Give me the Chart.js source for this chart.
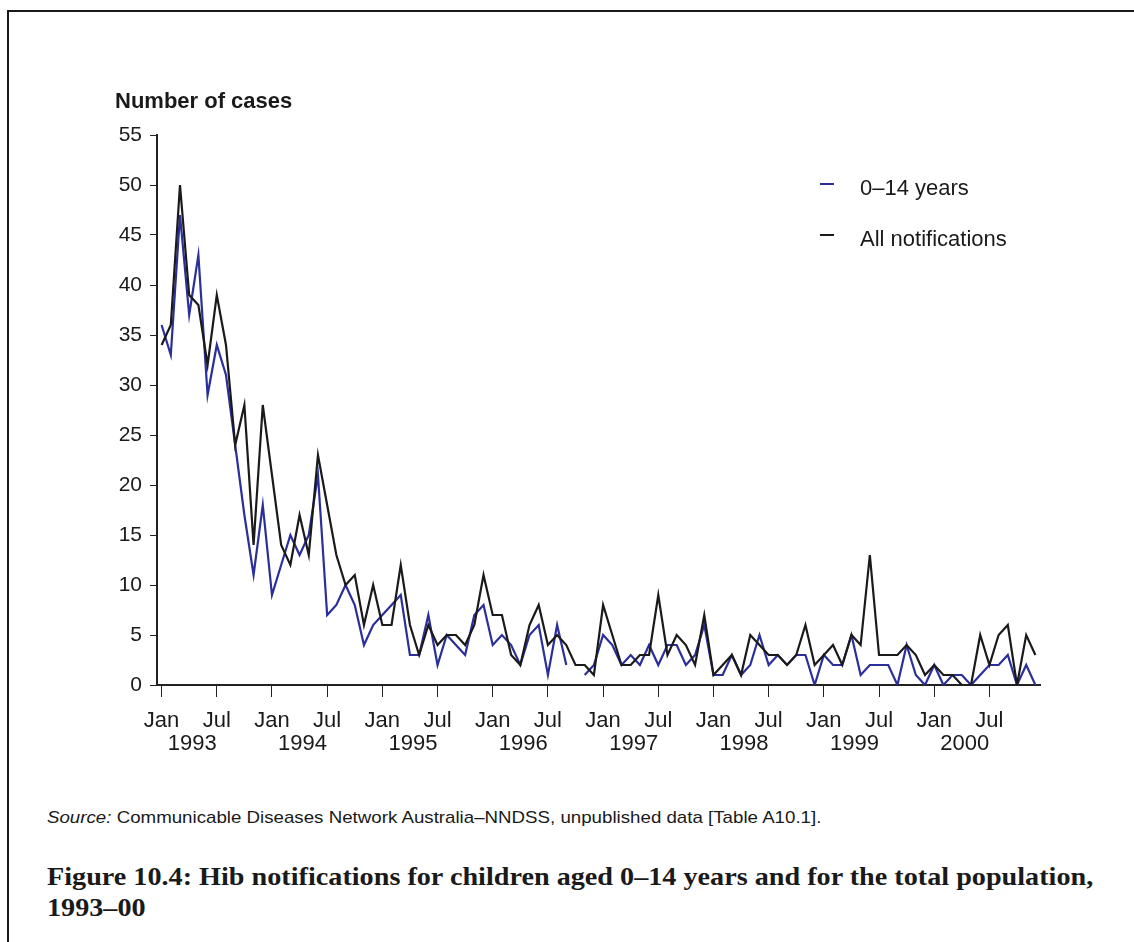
<!DOCTYPE html>
<html><head><meta charset="utf-8">
<script src="https://cdn.jsdelivr.net/npm/chart.js@4.4.0/dist/chart.umd.min.js"></script>
<style>
html,body{margin:0;padding:0;background:#fff;}
#wrap{position:relative;width:1134px;height:942px;overflow:hidden;font-family:"Liberation Sans",Arial,sans-serif;color:#1a1a1a;}
#frameTop{position:absolute;left:7px;top:10px;width:1127px;height:0;border-top:2px solid #1a1a1a;}
#frameLeft{position:absolute;left:7px;top:10px;width:0;height:932px;border-left:2px solid #1a1a1a;}
canvas{position:absolute;left:0;top:0;}
#ytitle{position:absolute;left:115px;top:89px;font-weight:bold;font-size:22px;line-height:24px;white-space:nowrap;}
.leg{position:absolute;left:820px;height:24px;font-size:22px;line-height:24px;white-space:nowrap;}
.leg span.ln{position:absolute;left:0;top:7px;width:14px;height:0;border-top:2px solid;}
.leg span.tx{position:absolute;left:40px;top:0;}
#source{position:absolute;left:47px;top:808px;font-size:17px;line-height:20px;white-space:nowrap;transform:scaleX(1.10);transform-origin:0 0;}
#caption{position:absolute;left:47px;top:861px;font-family:"Liberation Serif","Times New Roman",serif;font-weight:bold;font-size:26px;line-height:31px;white-space:nowrap;transform:scaleX(1.084);transform-origin:0 0;}
</style></head>
<body>
<div id="wrap">
<div id="frameTop"></div><div id="frameLeft"></div>
<canvas id="c" width="1134" height="780" style="width:1134px;height:780px"></canvas>
<div id="ytitle">Number of cases</div>
<div class="leg" style="top:176px"><span class="ln" style="border-color:#2b2f9a"></span><span class="tx">0–14 years</span></div>
<div class="leg" style="top:227px"><span class="ln" style="border-color:#1a1a1a"></span><span class="tx">All notifications</span></div>
<div id="source"><i>Source:</i> Communicable Diseases Network Australia–NNDSS, unpublished data [Table A10.1].</div>
<div id="caption">Figure 10.4: Hib notifications for children aged 0–14 years and for the total population,<br>1993–00</div>
</div>
<script>
const monthNames = ['Jan','Feb','Mar','Apr','May','Jun','Jul','Aug','Sep','Oct','Nov','Dec'];
const years = ['1993','1994','1995','1996','1997','1998','1999','2000'];
const categories = years.flatMap(y => monthNames.map(m => m + ' ' + y));
const yTicks = [0,5,10,15,20,25,30,35,40,45,50,55];

const children0to14 = [
  36,33,47,37,43,29,34,31,24,17,11,18,
  9,12,15,13,15,21,7,8,10,8,4,6,
  7,8,9,3,3,7,2,5,4,3,7,8,
  4,5,4,2,5,6,1,6,2,null,1,2,
  5,4,2,3,2,4,2,4,4,2,3,6,
  1,1,3,1,2,5,2,3,2,3,3,0,
  3,2,2,5,1,2,2,2,0,4,1,0,
  2,0,1,1,0,1,2,2,3,0,2,0
];
const allNotifications = [
  34,36,50,39,38,32,39,34,24,28,14,28,
  21,14,12,17,13,23,18,13,10,11,6,10,
  6,6,12,6,3,6,4,5,5,4,6,11,
  7,7,3,2,6,8,4,5,4,2,2,1,
  8,5,2,2,3,3,9,3,5,4,2,7,
  1,2,3,1,5,4,3,3,2,3,6,2,
  3,4,2,5,4,13,3,3,3,4,3,1,
  2,1,1,0,0,5,2,5,6,0,5,3
];

const axisColor = '#222';
const fam = '"Liberation Sans", Arial, sans-serif';

new Chart(document.getElementById('c'), {
  type: 'line',
  data: {
    labels: categories,
    datasets: [
      {label:'All notifications', data: allNotifications, borderColor:'#1a1a1a', borderWidth:2.2, pointRadius:0, tension:0, spanGaps:false, fill:false},
      {label:'0–14 years', data: children0to14, borderColor:'#2b2f9a', borderWidth:2.2, pointRadius:0, tension:0, spanGaps:false, fill:false}
    ]
  },
  options: {
    responsive:false,
    animation:false,
    devicePixelRatio:1,
    layout:{padding:{left:0, top:135, right:94, bottom:0}},
    plugins:{legend:{display:false}, tooltip:{enabled:false}, title:{display:false}},
    scales:{
      x:{
        type:'category', position:'bottom', offset:true, weight:0,
        grid:{offset:false, drawOnChartArea:false, drawTicks:true, tickLength:12, tickColor:axisColor, lineWidth:1},
        border:{display:true, color:axisColor, width:2},
        ticks:{autoSkip:false, maxRotation:0, minRotation:0, padding:13, color:'#1a1a1a', font:{family:fam, size:22, lineHeight:1},
          callback:(v,i)=> (i % 6 === 0 ? monthNames[i % 12] : null)},
        afterFit:(s)=>{ s.height = 45; }
      },
      x2:{
        type:'category', position:'bottom', offset:true, weight:1,
        grid:{display:false, drawTicks:false},
        border:{display:false},
        ticks:{autoSkip:false, maxRotation:0, minRotation:0, padding:5, labelOffset:3, color:'#1a1a1a', font:{family:fam, size:22, lineHeight:0.8},
          callback:(v,i)=> (i % 12 === 3 ? years[Math.floor(i/12)] : null)},
        afterFit:(s)=>{ s.height = 50; }
      },
      y:{
        type:'linear', min:0, max:55,
        grid:{drawOnChartArea:false, drawTicks:true, tickLength:7, tickColor:axisColor, lineWidth:1},
        border:{display:true, color:axisColor, width:2},
        afterBuildTicks:(s)=>{ s.ticks = yTicks.map(v=>({value:v})); },
        ticks:{padding:8, color:'#1a1a1a', font:{family:fam, size:21}},
        afterFit:(s)=>{ s.width = 157; }
      }
    }
  }
});
</script>
</body></html>
